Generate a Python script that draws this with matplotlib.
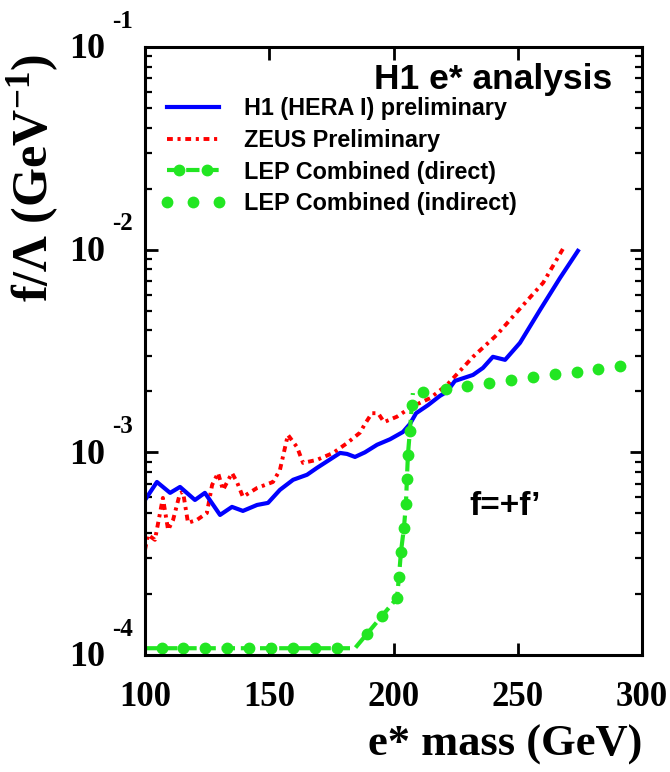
import matplotlib
matplotlib.use("Agg")
import matplotlib.pyplot as plt
from matplotlib.lines import Line2D
from matplotlib.legend_handler import HandlerLine2D
from matplotlib.ticker import LogLocator, NullFormatter

# ── data (e* mass in GeV, f/Lambda in GeV^-1) ─────────────────────────────────
h1_mass = [100.0, 104.8, 110.1, 114.1, 120.1, 124.1, 130.2, 135.0, 139.4, 145.1,
           149.5, 154.3, 159.6, 165.2, 169.2, 178.5, 181.3, 184.5, 188.5, 193.4,
           198.6, 203.8, 206.6, 209.1, 213.9, 218.7, 221.5, 224.7, 232.0, 236.0,
           240.0, 244.9, 250.9, 259.0, 267.0, 274.2]
h1_limit = [5.82e-4, 7.14e-4, 6.31e-4, 6.75e-4, 5.82e-4, 6.31e-4, 4.91e-4, 5.38e-4,
            5.14e-4, 5.50e-4, 5.63e-4, 6.53e-4, 7.32e-4, 7.75e-4, 8.38e-4, 9.93e-4,
            9.82e-4, 9.49e-4, 1.00e-3, 1.09e-3, 1.16e-3, 1.26e-3, 1.38e-3, 1.56e-3,
            1.71e-3, 1.90e-3, 1.99e-3, 2.25e-3, 2.41e-3, 2.61e-3, 2.96e-3, 2.86e-3,
            3.47e-3, 5.05e-3, 7.25e-3, 9.86e-3]

zeus_mass = [100.0, 101.2, 104.0, 107.2, 109.3, 111.3, 114.1, 115.3, 117.3, 120.9,
             124.9, 127.0, 129.4, 131.4, 135.0, 137.0, 139.4, 145.1, 151.5, 154.3,
             157.5, 161.2, 163.6, 169.2, 175.7, 181.3, 186.5, 188.5, 191.3, 193.8,
             196.2, 201.4, 207.4, 214.7, 221.5, 232.0, 241.6, 249.7, 260.2, 269.0]
zeus_limit = [3.30e-4, 3.92e-4, 3.70e-4, 5.96e-4, 4.14e-4, 4.64e-4, 6.30e-4, 6.38e-4,
              4.49e-4, 4.64e-4, 5.02e-4, 6.90e-4, 7.91e-4, 6.52e-4, 7.91e-4, 7.14e-4,
              6.03e-4, 6.67e-4, 7.14e-4, 8.19e-4, 1.22e-3, 1.06e-3, 8.87e-4, 9.18e-4,
              9.93e-4, 1.11e-3, 1.25e-3, 1.38e-3, 1.56e-3, 1.56e-3, 1.41e-3, 1.50e-3,
              1.68e-3, 1.85e-3, 2.15e-3, 2.96e-3, 3.80e-3, 4.93e-3, 6.86e-3, 1.05e-2]

lep_dir_mass = [100.0, 106.8, 115.3, 124.1, 133.0, 141.9, 150.7, 159.6, 168.4, 177.3,
                184.5, 189.3, 195.4, 201.4, 202.2, 203.0, 204.2, 205.0, 205.4, 205.8,
                206.6, 207.4, 207.8]
lep_dir_limit = [1.08e-4, 1.08e-4, 1.08e-4, 1.08e-4, 1.08e-4, 1.08e-4, 1.08e-4, 1.08e-4,
                 1.08e-4, 1.08e-4, 1.08e-4, 1.27e-4, 1.56e-4, 1.91e-4, 2.43e-4, 3.23e-4,
                 4.24e-4, 5.56e-4, 7.39e-4, 9.71e-4, 1.28e-3, 1.71e-3, 1.96e-3]
lep_dir_marks = [1, 2, 3, 4, 5, 6, 7, 8, 9, 11, 12, 13, 14, 15, 16, 17, 18, 19, 20, 21]

lep_ind_mass = [211.9, 221.1, 229.6, 238.4, 247.3, 256.1, 265.0, 273.8, 282.3, 291.1]
lep_ind_limit = [1.99e-3, 2.06e-3, 2.13e-3, 2.20e-3, 2.28e-3, 2.35e-3, 2.44e-3,
                 2.49e-3, 2.58e-3, 2.67e-3]

labels = ["H1 (HERA I) preliminary", "ZEUS Preliminary",
          "LEP Combined (direct)", "LEP Combined (indirect)"]
x_ticks = [100, 150, 200, 250, 300]
y_decades = [1e-4, 1e-3, 1e-2, 1e-1]
y_exponents = ["-4", "-3", "-2", "-1"]

# ── styles ────────────────────────────────────────────────────────────────────
SERIF = "Liberation Serif"
SANS = "Liberation Sans"
BLUE, RED, GREEN = "#0000ff", "#ff0000", "#22e622"
plt.rcParams["mathtext.fontset"] = "custom"
plt.rcParams["mathtext.rm"] = "Liberation Serif:bold"
plt.rcParams["mathtext.default"] = "rm"

fig = plt.figure(figsize=(6.7, 7.72), dpi=100)
ax = fig.add_axes([145/670, 1-655/772, 497/670, 608/772])

zeus_style = dict(color=RED, lw=2.8, dashes=(1.5, 1.2, 0.8, 1.2))
dir_line = dict(color=GREEN, lw=3.0, dashes=(3.2, 1.4))
dir_mark = dict(marker="o", ms=7.5, mec=GREEN, mfc=GREEN)

ax.plot(zeus_mass, zeus_limit, **zeus_style)
ax.plot(h1_mass, h1_limit, color=BLUE, lw=3.0, solid_joinstyle="round")
ax.plot(lep_dir_mass, lep_dir_limit, markevery=lep_dir_marks, **dir_line, **dir_mark)
ax.plot(lep_ind_mass, lep_ind_limit, color=GREEN, ls="none", marker="o", ms=8.5,
        mec="none")

ax.set_yscale("log")
ax.set_xlim(100, 300)
ax.set_ylim(1e-4, 1e-1)

# ticks: inward on all four sides, thick frame
for sp in ax.spines.values():
    sp.set_linewidth(2.2)
ax.set_xticks(x_ticks)
ax.set_xticklabels([str(v) for v in x_ticks], fontfamily=SERIF,
                   fontweight="bold", fontsize=25)
ax.yaxis.set_major_locator(LogLocator(base=10, numticks=10))
ax.yaxis.set_minor_locator(LogLocator(base=10, subs=range(2, 10), numticks=20))
ax.yaxis.set_major_formatter(NullFormatter())
ax.yaxis.set_minor_formatter(NullFormatter())
ax.tick_params(which="both", direction="in", top=True, right=True)
ax.tick_params(which="major", length=9, width=2.0, pad=19)
ax.tick_params(which="minor", length=5, width=1.6)

# y tick labels drawn as "10" with the exponent sitting above-right
for val, ex in zip(y_decades, y_exponents):
    ax.annotate("10", xy=(0, val), xycoords=("axes fraction", "data"),
                xytext=(-40, -3), textcoords="offset pixels", ha="right",
                va="center", fontfamily=SERIF, fontweight="bold", fontsize=26)
    ax.annotate(ex, xy=(0, val), xycoords=("axes fraction", "data"),
                xytext=(-12, 26), textcoords="offset pixels", ha="right",
                va="center", fontfamily=SERIF, fontweight="bold", fontsize=18)

ax.set_xlabel("e* mass (GeV)", fontfamily=SERIF, fontweight="bold",
              fontsize=32, loc="right", labelpad=7)
fig.text(0.05, 1-178/772, "f/Λ (GeV$^{\\mathregular{-1}}$)", rotation=90,
         ha="center", va="center", fontfamily=SERIF, fontweight="bold",
         fontsize=36)

ax.text(0.94, 0.946, "H1 e* analysis", transform=ax.transAxes, ha="right",
        va="center", fontfamily=SANS, fontweight="bold", fontsize=25.5)
ax.text(0.724, 0.245, "f=+f’", transform=ax.transAxes, ha="center",
        va="center", fontfamily=SANS, fontweight="bold", fontsize=24)

# legend: direct entry = full dashed line + two inset markers
dir_h_line = Line2D([], [], **dir_line)
dir_h_mark = Line2D([], [], ls="none", color=GREEN, **dir_mark)
ind_h = Line2D([], [], color=GREEN, ls="none", marker="o", ms=8.5, mec="none")
handles = [
    Line2D([], [], color=BLUE, lw=3.0),
    Line2D([], [], **zeus_style),
    (dir_h_line, dir_h_mark),
    ind_h,
]
leg = ax.legend(handles, labels, loc="upper left", bbox_to_anchor=(0.045, 0.918),
                frameon=False, borderpad=0, borderaxespad=0, handlelength=2.2,
                handletextpad=1.1, labelspacing=0.38, numpoints=1,
                prop={"family": SANS, "weight": "bold", "size": 16.8},
                handler_map={dir_h_mark: HandlerLine2D(numpoints=2, marker_pad=0.5),
                             ind_h: HandlerLine2D(numpoints=3, marker_pad=0.0)})

fig.savefig("out.png", dpi=100)
